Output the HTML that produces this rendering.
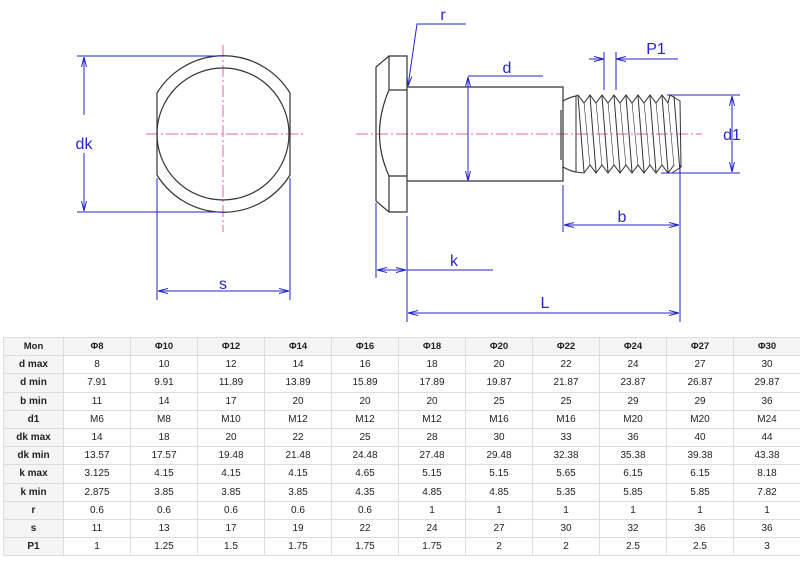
<!DOCTYPE html>
<html><head><meta charset="utf-8"><style>
body{margin:0;background:#fff;width:800px;height:568px;overflow:hidden;position:relative;font-family:"Liberation Sans",sans-serif}
svg{position:absolute;left:0;top:0}
table{position:absolute;left:3px;top:337px;border-collapse:collapse;table-layout:fixed;width:798px;font-size:10px;color:#222}
td{border:1px solid #ddd;height:17.2px;padding:0;text-align:center;line-height:17px}
tr:first-child td,td:first-child{font-weight:bold;background:#f5f5f5}
tr:first-child td{font-size:9.5px}
</style></head><body>
<svg width="800" height="335" viewBox="0 0 800 335">
<defs><marker id="a" markerWidth="10" markerHeight="6" refX="10" refY="3" orient="auto-start-reverse" markerUnits="userSpaceOnUse"><path d="M0,0.5 L10,3 L0,5.5" fill="none" stroke="#2626c8" stroke-width="1"/></marker></defs>
<g stroke="#e060b0" stroke-width="1" stroke-dasharray="12,3,2,3" fill="none">
<line x1="223" y1="45" x2="223" y2="232"/><line x1="146" y1="134" x2="303" y2="134"/>
<line x1="356" y1="134" x2="702" y2="134"/></g>
<g stroke="#333" stroke-width="1.2" fill="none">
<path d="M157,93 A78,78 0 0 1 290,93 L290,175 A78,78 0 0 1 157,175 Z"/>
<circle cx="223" cy="134" r="66"/>
<path d="M389,56 L407,56 L407,212 L389,212 L376,201 L376,67 Z"/>
<path d="M389,56 L389,90 L407,90 M389,212 L389,176 L407,176 M389,90 Q370,134 389,176"/>
<path d="M407,87 L563,87 L563,181 L407,181"/>
<path d="M563,101 Q570,97 576,96 M563,167 Q570,171 576,172"/>
<line x1="561" y1="110" x2="561" y2="160"/>
</g>
<g id="th" stroke="#333" stroke-width="1" fill="none"></g>
<g stroke="#2626c8" stroke-width="1" fill="none">
<line x1="77" y1="56" x2="223" y2="56"/><line x1="77" y1="212" x2="223" y2="212"/>
<line x1="84" y1="115" x2="84" y2="57" marker-end="url(#a)"/><line x1="84" y1="153" x2="84" y2="211" marker-end="url(#a)"/>
<line x1="157" y1="178" x2="157" y2="300"/><line x1="290" y1="178" x2="290" y2="300"/>
<line x1="158" y1="291" x2="289" y2="291" marker-start="url(#a)" marker-end="url(#a)"/>
<polyline points="466,24 417,24 408,86" marker-end="url(#a)"/>
<line x1="468" y1="76" x2="543" y2="76"/>
<line x1="468" y1="77" x2="468" y2="181" marker-start="url(#a)" marker-end="url(#a)"/>
<line x1="604" y1="52" x2="604" y2="90"/><line x1="616" y1="52" x2="616" y2="90"/>
<line x1="589" y1="59" x2="604" y2="59" marker-end="url(#a)"/><line x1="678" y1="59" x2="616" y2="59" marker-end="url(#a)"/>
<line x1="667" y1="95" x2="740" y2="95"/><line x1="661" y1="173" x2="740" y2="173"/>
<line x1="732" y1="96" x2="732" y2="172" marker-start="url(#a)" marker-end="url(#a)"/>
<line x1="563" y1="185" x2="563" y2="232"/><line x1="680" y1="165" x2="680" y2="322"/>
<line x1="564" y1="225" x2="679" y2="225" marker-start="url(#a)" marker-end="url(#a)"/>
<line x1="376" y1="203" x2="376" y2="278"/><line x1="407" y1="216" x2="407" y2="322"/>
<line x1="377" y1="270" x2="406" y2="270" marker-start="url(#a)" marker-end="url(#a)"/><line x1="407" y1="270" x2="493" y2="270"/>
<line x1="408" y1="313" x2="679" y2="313" marker-start="url(#a)" marker-end="url(#a)"/>
</g>
<g fill="#2626c8" font-size="16" text-anchor="middle" font-family="Liberation Sans,sans-serif">
<text x="84" y="149">dk</text><text x="223" y="289">s</text><text x="443" y="20">r</text>
<text x="507" y="73">d</text><text x="656" y="54">P1</text><text x="732" y="140">d1</text>
<text x="622" y="222">b</text><text x="454" y="266">k</text><text x="545" y="308">L</text>
</g>
</svg>
<script>
(function(){
var g=document.getElementById('th'),s='',tp='M576,96',bt='M576,172';
for(var i=0;i<9;i++){var x=578+i*12;
 if(i<8){tp+=' L'+x+',95 L'+(x+6)+',103';bt+=' L'+(x+6)+',173 L'+(x+12)+',165';}
 s+='<line x1="'+x+'" y1="96" x2="'+(x+6)+'" y2="172"/>';
 if(i>0)s+='<line x1="'+(x-6)+'" y1="102" x2="'+x+'" y2="166" stroke-width="0.6"/>';}
tp+=' L670,95 L680,101 L681,167 L672,173';
s+='<path d="'+tp+'"/><path d="'+bt+'"/><line x1="576" y1="96" x2="576" y2="172"/>';
g.innerHTML=s;
})();
</script>
<table>
<colgroup><col style="width:60px"><col span="11"></colgroup>
<tr><td>Mon</td><td>Φ8</td><td>Φ10</td><td>Φ12</td><td>Φ14</td><td>Φ16</td><td>Φ18</td><td>Φ20</td><td>Φ22</td><td>Φ24</td><td>Φ27</td><td>Φ30</td></tr>
<tr><td>d max</td><td>8</td><td>10</td><td>12</td><td>14</td><td>16</td><td>18</td><td>20</td><td>22</td><td>24</td><td>27</td><td>30</td></tr>
<tr><td>d min</td><td>7.91</td><td>9.91</td><td>11.89</td><td>13.89</td><td>15.89</td><td>17.89</td><td>19.87</td><td>21.87</td><td>23.87</td><td>26.87</td><td>29.87</td></tr>
<tr><td>b min</td><td>11</td><td>14</td><td>17</td><td>20</td><td>20</td><td>20</td><td>25</td><td>25</td><td>29</td><td>29</td><td>36</td></tr>
<tr><td>d1</td><td>M6</td><td>M8</td><td>M10</td><td>M12</td><td>M12</td><td>M12</td><td>M16</td><td>M16</td><td>M20</td><td>M20</td><td>M24</td></tr>
<tr><td>dk max</td><td>14</td><td>18</td><td>20</td><td>22</td><td>25</td><td>28</td><td>30</td><td>33</td><td>36</td><td>40</td><td>44</td></tr>
<tr><td>dk min</td><td>13.57</td><td>17.57</td><td>19.48</td><td>21.48</td><td>24.48</td><td>27.48</td><td>29.48</td><td>32.38</td><td>35.38</td><td>39.38</td><td>43.38</td></tr>
<tr><td>k max</td><td>3.125</td><td>4.15</td><td>4.15</td><td>4.15</td><td>4.65</td><td>5.15</td><td>5.15</td><td>5.65</td><td>6.15</td><td>6.15</td><td>8.18</td></tr>
<tr><td>k min</td><td>2.875</td><td>3.85</td><td>3.85</td><td>3.85</td><td>4.35</td><td>4.85</td><td>4.85</td><td>5.35</td><td>5.85</td><td>5.85</td><td>7.82</td></tr>
<tr><td>r</td><td>0.6</td><td>0.6</td><td>0.6</td><td>0.6</td><td>0.6</td><td>1</td><td>1</td><td>1</td><td>1</td><td>1</td><td>1</td></tr>
<tr><td>s</td><td>11</td><td>13</td><td>17</td><td>19</td><td>22</td><td>24</td><td>27</td><td>30</td><td>32</td><td>36</td><td>36</td></tr>
<tr><td>P1</td><td>1</td><td>1.25</td><td>1.5</td><td>1.75</td><td>1.75</td><td>1.75</td><td>2</td><td>2</td><td>2.5</td><td>2.5</td><td>3</td></tr>
</table>
</body></html>
